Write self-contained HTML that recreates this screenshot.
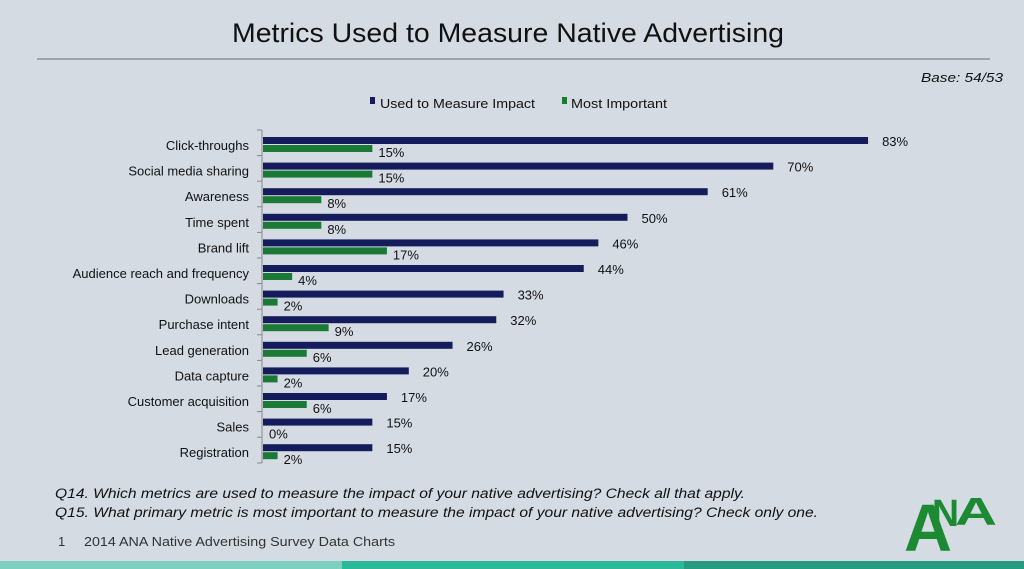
<!DOCTYPE html>
<html><head><meta charset="utf-8"><style>
html,body{margin:0;padding:0;background:#d5dbe3;}
svg{display:block;font-family:"Liberation Sans",Arial,sans-serif;}
</style></head><body>
<svg width="1024" height="569" viewBox="0 0 1024 569" xmlns="http://www.w3.org/2000/svg">
<rect width="1024" height="569" fill="#d5dbe3"/>
<text x="508" y="42" font-size="27" text-anchor="middle" textLength="552" lengthAdjust="spacingAndGlyphs" fill="#111">Metrics Used to Measure Native Advertising</text>
<line x1="37" y1="59" x2="990" y2="59" stroke="#8a939c" stroke-width="1.5"/>
<text x="1003" y="82" font-size="13" font-style="italic" text-anchor="end" textLength="82" lengthAdjust="spacingAndGlyphs" fill="#111">Base: 54/53</text>
<rect x="370" y="97" width="5" height="7" fill="#141c5c"/>
<text x="380" y="108" font-size="13" textLength="155" lengthAdjust="spacingAndGlyphs" fill="#111">Used to Measure Impact</text>
<rect x="562" y="97" width="5" height="7" fill="#1a7a35"/>
<text x="571" y="108" font-size="13" textLength="96" lengthAdjust="spacingAndGlyphs" fill="#111">Most Important</text>
<g id="chart" font-size="13" fill="#111"></g>
<text x="55" y="498" font-size="13.5" font-style="italic" textLength="690" lengthAdjust="spacingAndGlyphs" fill="#111">Q14. Which metrics are used to measure the impact of your native advertising? Check all that apply.</text>
<text x="55" y="517" font-size="13.5" font-style="italic" textLength="763" lengthAdjust="spacingAndGlyphs" fill="#111">Q15. What primary metric is most important to measure the impact of your native advertising? Check only one.</text>
<text x="58" y="546" font-size="13" fill="#333">1</text>
<text x="84" y="546" font-size="13" textLength="311" lengthAdjust="spacingAndGlyphs" fill="#333">2014 ANA Native Advertising Survey Data Charts</text>
<text x="904" y="551" font-size="67" font-weight="bold" fill="#1c8a32" textLength="48" lengthAdjust="spacingAndGlyphs">A</text>
<text x="932" y="526" font-size="38" font-weight="bold" fill="#1c8a32" textLength="27" lengthAdjust="spacingAndGlyphs">N</text>
<text x="955" y="525" font-size="39" font-weight="bold" fill="#1c8a32" textLength="42" lengthAdjust="spacingAndGlyphs">A</text>
<rect x="0" y="561" width="342" height="8" fill="#7dcfbf"/>
<rect x="342" y="561" width="342" height="8" fill="#2bb99a"/>
<rect x="684" y="561" width="340" height="8" fill="#259b80"/>
</svg>
<script>
var d=[["Click-throughs",83,15],["Social media sharing",70,15],["Awareness",61,8],["Time spent",50,8],["Brand lift",46,17],["Audience reach and frequency",44,4],["Downloads",33,2],["Purchase intent",32,9],["Lead generation",26,6],["Data capture",20,2],["Customer acquisition",17,6],["Sales",15,0],["Registration",15,2]];
var g=document.getElementById('chart'),s='',x0=262,k=7.29,p=25.6;
s+='<line x1="'+x0+'" y1="130" x2="'+x0+'" y2="463" stroke="#888" stroke-width="1"/>';
d.forEach(function(r,i){var t=130+i*p;
s+='<line x1="257" y1="'+t+'" x2="262" y2="'+t+'" stroke="#888"/>';
s+='<text x="249" y="'+(t+20)+'" text-anchor="end">'+r[0]+'</text>';
s+='<rect x="263" y="'+(t+7)+'" width="'+(r[1]*k)+'" height="7" fill="#141c5c"/>';
s+='<text x="'+(263+r[1]*k+14)+'" y="'+(t+16)+'">'+r[1]+'%</text>';
if(r[2])s+='<rect x="263" y="'+(t+15)+'" width="'+(r[2]*k)+'" height="7" fill="#1a7a35"/>';
s+='<text x="'+(263+r[2]*k+6)+'" y="'+(t+27)+'">'+r[2]+'%</text>';});
s+='<line x1="257" y1="463" x2="262" y2="463" stroke="#888"/>';
g.innerHTML=s;
</script>
</body></html>
